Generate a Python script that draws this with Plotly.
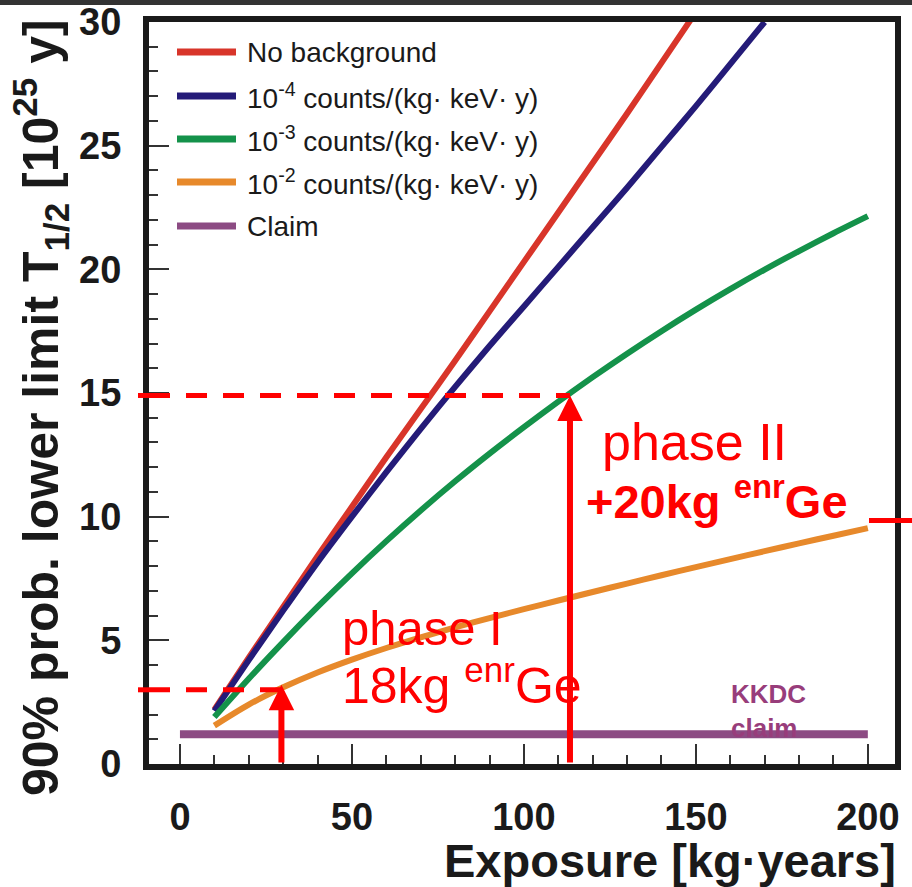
import plotly.graph_objects as go

# ---------------- data ----------------
exposure = [10, 20, 30, 40, 50, 60, 70, 80, 90, 100, 110, 120, 130, 140, 150,
            160, 170, 180, 190, 200]

no_bkg = [2.2, 4.3, 6.35, 8.4, 10.4, 12.4, 14.35, 16.3, 18.3, 20.3, 22.3, 24.3,
          26.3, 28.35, 30.4]
bkg_1e4 = [2.15, 4.2, 6.2, 8.15, 10.0, 11.8, 13.55, 15.25, 16.9, 18.5, 20.1,
           21.7, 23.3, 24.95, 26.6, 28.3, 30.0]
bkg_1e3 = [1.9, 3.45, 4.93, 6.35, 7.71, 9.01, 10.25, 11.43, 12.55, 13.62,
           14.65, 15.64, 16.59, 17.5, 18.37, 19.2, 19.99, 20.74, 21.46, 22.15]
bkg_1e2 = [1.55, 2.4, 3.1, 3.7, 4.22, 4.69, 5.12, 5.52, 5.9, 6.26, 6.61,
           6.955, 7.295, 7.63, 7.96, 8.285, 8.605, 8.92, 9.23, 9.535]
claim_x = [0, 200]
claim_y = [1.2, 1.2]

series_names = ["No background",
                "10<sup>-4</sup> counts/(kg· keV· y)",
                "10<sup>-3</sup> counts/(kg· keV· y)",
                "10<sup>-2</sup> counts/(kg· keV· y)",
                "Claim"]

x_ticks = [0, 50, 100, 150, 200]
y_ticks = [0, 5, 10, 15, 20, 25, 30]

# phase markers (exposure, limit reached)
phase1_x, phase1_y = 29.5, 3.0
phase2_x, phase2_y = 113.4, 14.9

# ---------------- styling ----------------
RED = "#d8352a"
BLUE = "#241b78"
GREEN = "#14924a"
ORANGE = "#e7892b"
PURPLE = "#8c4b83"
ANN_RED = "#ff0000"
colors = [RED, BLUE, GREEN, ORANGE, PURPLE]
FONT = "Liberation Sans, Arial, Helvetica, sans-serif"

XR = [-9, 207.9]
YR = [0, 30]
ML, MR, MT, MB = 149, 17, 22, 123
PW, PH = 912 - ML - MR, 887 - MT - MB


def px_x(px):
    return (px - ML) / PW


def px_y(py):
    return (887 - MB - py) / PH


fig = go.Figure()
curves = [(exposure[:len(no_bkg)], no_bkg), (exposure[:len(bkg_1e4)], bkg_1e4),
          (exposure, bkg_1e3), (exposure, bkg_1e2), (claim_x, claim_y)]
for (xs, ys), name, col in zip(curves, series_names, colors):
    fig.add_trace(go.Scatter(
        x=xs, y=ys, mode="lines", name=name,
        line=dict(color=col, width=8 if name == "Claim" else 6,
                  shape="spline", smoothing=0.8),
        showlegend=False, hoverinfo="skip"))

# manual legend (long line samples as in the reference)
leg_rows_px = [52, 96, 139, 182, 226]
for name, col, py in zip(series_names, colors, leg_rows_px):
    yp = px_y(py)
    fig.add_shape(type="line", xref="paper", yref="paper",
                  x0=px_x(177), x1=px_x(236), y0=yp, y1=yp,
                  line=dict(color=col, width=7), layer="above")
    fig.add_annotation(xref="paper", yref="paper", x=px_x(245), y=yp,
                       text=name, showarrow=False, xanchor="left",
                       yanchor="middle",
                       font=dict(family=FONT, size=28, color="#1a1a1a"))

# dashed guide lines
for yv, xv in [(phase2_y, phase2_x), (phase1_y, phase1_x)]:
    fig.add_shape(type="line", xref="x", yref="y", x0=XR[0], x1=xv,
                  y0=yv, y1=yv, line=dict(color=ANN_RED, width=5,
                                          dash="21px,16px"), layer="above")
    fig.add_shape(type="line", xref="paper", yref="y", x0=px_x(138), x1=0.0,
                  y0=yv, y1=yv, line=dict(color=ANN_RED, width=5),
                  layer="above")

# short red mark at the right edge
fig.add_shape(type="line", xref="paper", yref="y", x0=px_x(869),
              x1=px_x(915), y0=9.85, y1=9.85,
              line=dict(color=ANN_RED, width=5), layer="above")

# arrows
for xv, yv in [(phase1_x, phase1_y + 0.2), (phase2_x, phase2_y)]:
    fig.add_annotation(x=xv, y=yv, ax=xv, ay=0, xref="x", yref="y",
                       axref="x", ayref="y", showarrow=True, arrowhead=2,
                       arrowsize=0.85, arrowwidth=6, arrowcolor=ANN_RED,
                       text="")

# red texts
fig.add_annotation(x=46.5, y=5.5, text="phase I", showarrow=False,
                   xanchor="left", yanchor="middle",
                   font=dict(family=FONT, size=49, color=ANN_RED))
fig.add_annotation(x=46.5, y=3.3, text="18kg <sup>enr</sup>Ge",
                   showarrow=False, xanchor="left", yanchor="middle",
                   font=dict(family=FONT, size=50, color=ANN_RED))
fig.add_annotation(x=122.0, y=13.0, text="phase II", showarrow=False,
                   xanchor="left", yanchor="middle",
                   font=dict(family=FONT, size=52, color=ANN_RED))
fig.add_annotation(x=117.5, y=10.75, text="<b>+20kg <sup>enr</sup>Ge</b>",
                   showarrow=False, xanchor="left", yanchor="middle",
                   font=dict(family=FONT, size=47, color=ANN_RED))

# KKDC claim label
fig.add_annotation(x=159.5, y=2.15, text="<b>KKDC<br>claim</b>",
                   showarrow=False, xanchor="left", yanchor="middle",
                   align="left",
                   font=dict(family=FONT, size=26, color="#983d7b"))

# axis titles
fig.add_annotation(xref="paper", yref="paper", x=px_x(40), y=px_y(408),
                   text="<b>90% prob. lower limit T<sub>1/2</sub> [10<sup>25</sup> y]</b>",
                   textangle=-90, showarrow=False, xanchor="center",
                   yanchor="middle",
                   font=dict(family=FONT, size=50, color="#1a1a1a"))
fig.add_annotation(xref="paper", yref="paper", x=px_x(898), y=px_y(860),
                   text="<b>Exposure [kg·years]</b>", showarrow=False,
                   xanchor="right", yanchor="middle",
                   font=dict(family=FONT, size=47, color="#1a1a1a"))

# dark strip at very top
fig.add_shape(type="rect", xref="paper", yref="paper", x0=-0.3, x1=1.1,
              y0=px_y(5), y1=px_y(-5), fillcolor="#333333",
              line=dict(width=0), layer="above")

axis_common = dict(showgrid=False, zeroline=False, showline=True,
                   linewidth=6, linecolor="#1a1a1a", mirror=True,
                   automargin=False,
                   ticks="inside", ticklen=20, tickwidth=1.5,
                   tickcolor="#333333",
                   tickfont=dict(family=FONT, size=38, color="#1a1a1a",
                                 weight="bold"))
fig.update_xaxes(range=XR, tickvals=x_ticks, ticklabelstandoff=14,
                 minor=dict(dtick=10, tick0=0, ticks="inside", ticklen=9,
                            tickwidth=1.5, tickcolor="#333333"),
                 **axis_common)
fig.update_yaxes(range=YR, tickvals=y_ticks, ticklabelstandoff=14,
                 minor=dict(dtick=1, tick0=0, ticks="inside", ticklen=9,
                            tickwidth=1.5, tickcolor="#333333"),
                 **axis_common)

fig.update_layout(width=912, height=887,
                  margin=dict(l=ML, r=MR, t=MT, b=MB, autoexpand=False),
                  plot_bgcolor="white", paper_bgcolor="white",
                  showlegend=False)

fig.write_html("out.html", config={"displayModeBar": False},
               post_script="document.body.style.margin='0';"
                           "document.body.style.padding='0';")
